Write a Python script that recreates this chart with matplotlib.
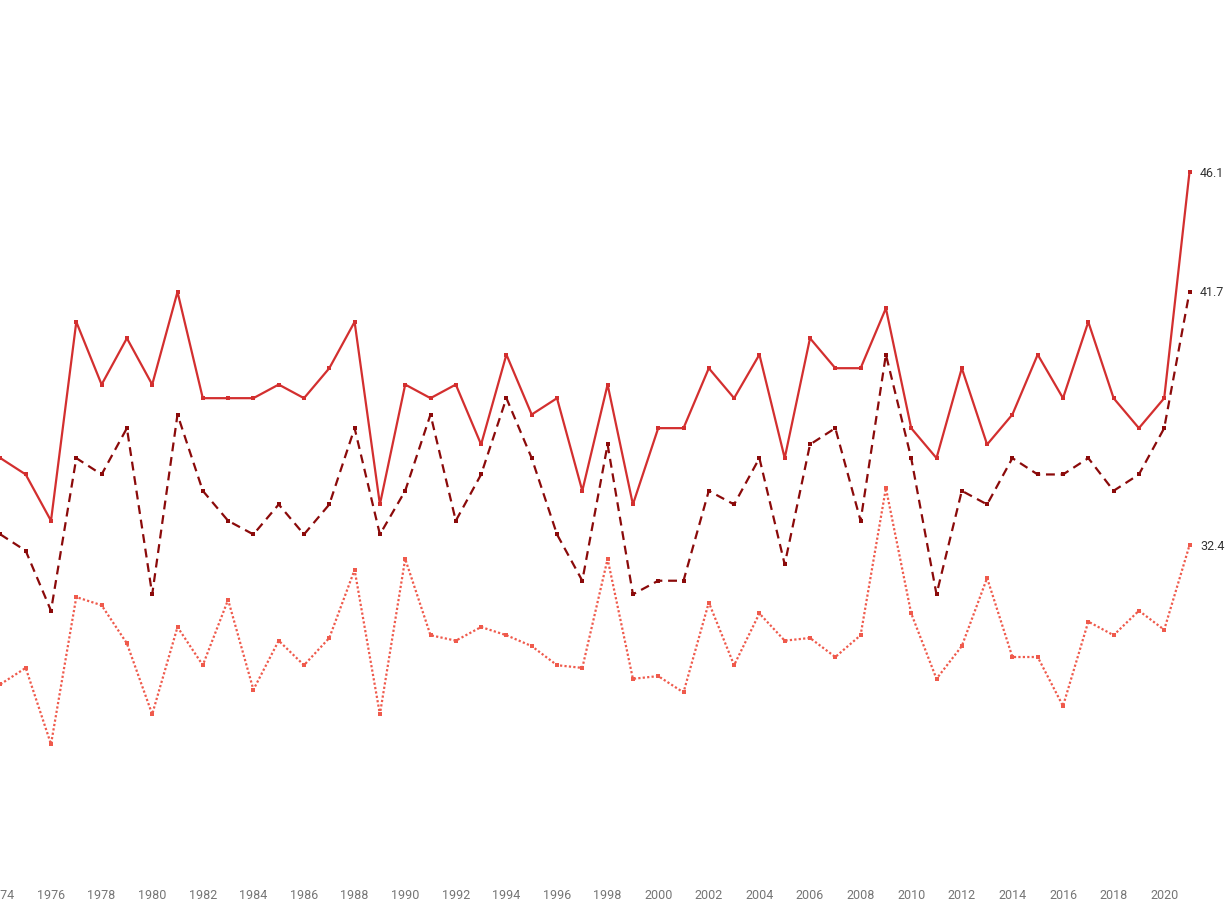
import matplotlib.pyplot as plt

plt.rcParams['font.family'] = ['Roboto', 'DejaVu Sans']

years = list(range(1974, 2022))

# highest temperature of the year (solid)
temp_max = [35.6, 35.0, 33.3, 40.6, 38.3, 40.0, 38.3, 41.7, 37.8, 37.8,
            37.8, 38.3, 37.8, 38.9, 40.6, 33.9, 38.3, 37.8, 38.3, 36.1,
            39.4, 37.2, 37.8, 34.4, 38.3, 33.9, 36.7, 36.7, 38.9, 37.8,
            39.4, 35.6, 40.0, 38.9, 38.9, 41.1, 36.7, 35.6, 38.9, 36.1,
            37.2, 39.4, 37.8, 40.6, 37.8, 36.7, 37.8, 46.1]

# second series (dashed)
temp_high = [32.8, 32.2, 30.0, 35.6, 35.0, 36.7, 30.6, 37.2, 34.4, 33.3,
             32.8, 33.9, 32.8, 33.9, 36.7, 32.8, 34.4, 37.2, 33.3, 35.0,
             37.8, 35.6, 32.8, 31.1, 36.1, 30.6, 31.1, 31.1, 34.4, 33.9,
             35.6, 31.7, 36.1, 36.7, 33.3, 39.4, 35.6, 30.6, 34.4, 33.9,
             35.6, 35.0, 35.0, 35.6, 34.4, 35.0, 36.7, 41.7]

# third series (dotted)
temp_avg = [27.3, 27.9, 25.1, 30.5, 30.2, 28.8, 26.2, 29.4, 28.0, 30.4,
            27.1, 28.9, 28.0, 29.0, 31.5, 26.2, 31.9, 29.1, 28.9, 29.4,
            29.1, 28.7, 28.0, 27.9, 31.9, 27.5, 27.6, 27.0, 30.3, 28.0,
            29.9, 28.9, 29.0, 28.3, 29.1, 34.5, 29.9, 27.5, 28.7, 31.2,
            28.3, 28.3, 26.5, 29.6, 29.1, 30.0, 29.3, 32.4]

series = [
    (temp_max, '#d32f2f', '-'),
    (temp_high, '#8b0a0a', (0, (4, 2.6))),
    (temp_avg, '#ef5a4c', (0, (1, 1))),
]

fig = plt.figure(figsize=(12.27, 9.20), dpi=100)
ax = fig.add_axes([0, 50 / 920, 1, 870 / 920])

for vals, color, ls in series:
    ax.plot(years, vals, color=color, linestyle=ls, linewidth=1.6,
            marker='s', markersize=2.8, markeredgewidth=0)
    ax.annotate(f'{vals[-1]:.1f}', xy=(years[-1], vals[-1]),
                xytext=(7.5, 0), textcoords='offset points',
                va='center', ha='left', fontsize=9, color='#333333')

ax.set_xlim(1974 - 0.4 / 25.3, 1974 + 1226.6 / 25.3)
ax.set_ylim(20.52, 52.45)
ax.set_xticks(range(1974, 2022, 2))
ax.tick_params(axis='x', length=0, pad=14, labelsize=9, labelcolor='#757575')
ax.set_yticks([])
for s in ax.spines.values():
    s.set_visible(False)

fig.savefig('out.png', dpi=100)
